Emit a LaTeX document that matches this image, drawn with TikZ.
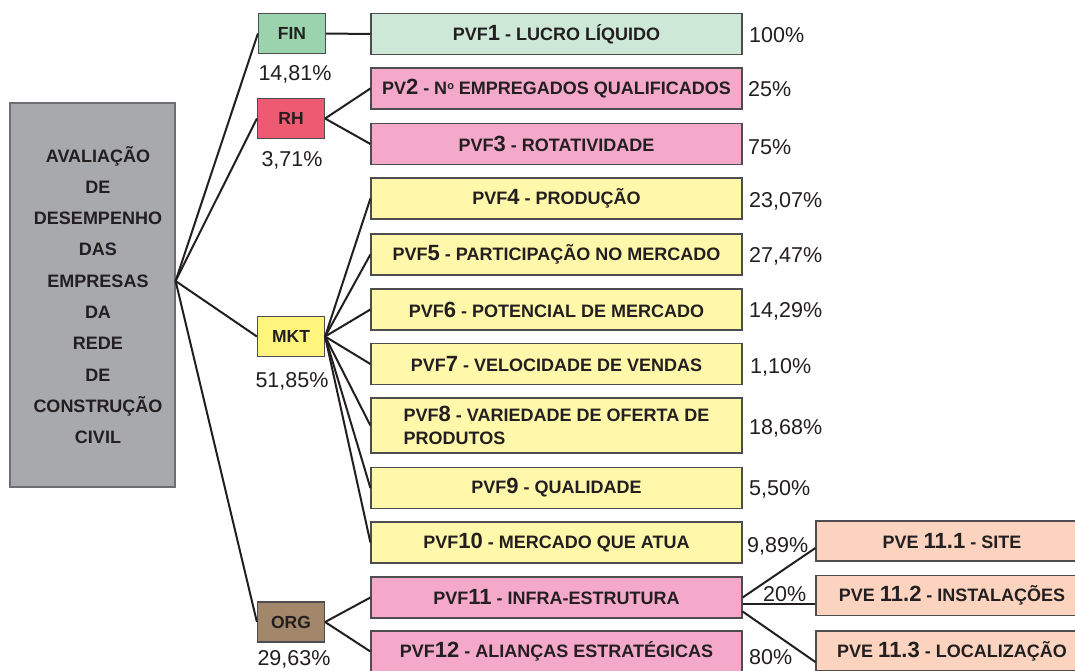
\documentclass[tikz,border=0pt]{standalone}
\usepackage{fontspec}
\setmainfont{Liberation Sans}
\definecolor{ink}{HTML}{231F20}
\definecolor{boxline}{HTML}{4D4D4F}
\definecolor{maingray}{HTML}{A7A9AC}
\definecolor{maingrayline}{HTML}{6D6E71}
\definecolor{fingreen}{HTML}{9BD3AE}
\definecolor{lightgreen}{HTML}{CDE8D7}
\definecolor{rhred}{HTML}{EE5A72}
\definecolor{pink}{HTML}{F4A9CB}
\definecolor{mktyellow}{HTML}{FFF57D}
\definecolor{lightyellow}{HTML}{FFF7AA}
\definecolor{orgbrown}{HTML}{A3876A}
\definecolor{peach}{HTML}{FCD3BF}
\newcommand{\dg}[1]{{\fontsize{22}{22}\selectfont #1}}
\newcommand{\nsup}{N\raisebox{0.55ex}{\fontsize{11}{11}\selectfont o}}
\newcommand{\ml}[1]{\hspace*{11pt}#1}
\tikzset{
  box/.style={draw=boxline, line width=1.2pt, inner sep=0pt, text=ink,
    font=\bfseries\fontsize{18}{23}\selectfont},
  catbox/.style={box, minimum width=67pt, minimum height=40pt,
    font=\bfseries\fontsize{17.5}{20}\selectfont},
  pvfbox/.style={box, minimum width=371pt, minimum height=41pt},
  pvebox/.style={box, fill=peach, minimum width=272pt, minimum height=40pt},
  pct/.style={font=\fontsize{21.5}{24}\selectfont, text=ink, inner sep=0pt},
  pctr/.style={pct, anchor=base west},
  pctc/.style={pct, anchor=base},
  link/.style={line width=2pt, draw=ink}
}
\begin{document}
\begin{tikzpicture}[x=1pt,y=-1pt]
\useasboundingbox (0,0) rectangle (1075,670);
\clip (0,0) rectangle (1075,670);

% main box
\node[box, draw=maingrayline, fill=maingray, minimum width=165pt, minimum height=384pt,
  align=center, font=\bfseries\fontsize{18}{31.3}\selectfont] (main) at (92.5,295)
  {\ml{AVALIAÇÃO}\\\ml{DE}\\\ml{DESEMPENHO}\\\ml{DAS}\\\ml{EMPRESAS}\\\ml{DA}\\\ml{REDE}\\\ml{DE}\\\ml{CONSTRUÇÃO}\\\ml{CIVIL}};
\coordinate (mo) at ([yshift=14pt]main.east);

% categories
\node[catbox, fill=fingreen] (fin) at (292,33.5) {FIN};
\node[catbox, fill=rhred] (rh) at (291,118.5) {RH};
\node[catbox, fill=mktyellow] (mkt) at (291,336.5) {MKT};
\node[catbox, fill=orgbrown] (org) at (291,622) {ORG};

\node[pctc] (pfin) at (295,80) {14,81\%};
\node[pctc] (prh) at (292,166.5) {3,71\%};
\node[pctc] (pmkt) at (292,387) {51,85\%};
\node[pctc] (porg) at (294,665) {29,63\%};

% PVF boxes
\node[pvfbox, fill=lightgreen] (p1) at (556.5,34) {PVF\dg{1} - LUCRO LÍQUIDO};
\node[pvfbox, fill=pink] (p2) at (556.5,88.5) {PV\dg{2} - \nsup{} EMPREGADOS QUALIFICADOS};
\node[pvfbox, fill=pink] (p3) at (556.5,144) {PVF\dg{3} - ROTATIVIDADE};
\node[pvfbox, fill=lightyellow] (p4) at (556.5,198.5) {PVF\dg{4} - PRODUÇÃO};
\node[pvfbox, fill=lightyellow] (p5) at (556.5,254.5) {PVF\dg{5} - PARTICIPAÇÃO NO MERCADO};
\node[pvfbox, fill=lightyellow] (p6) at (556.5,309.5) {PVF\dg{6} - POTENCIAL DE MERCADO};
\node[pvfbox, fill=lightyellow] (p7) at (556.5,364) {PVF\dg{7} - VELOCIDADE DE VENDAS};
\node[pvfbox, fill=lightyellow, minimum height=55pt, align=left] (p8) at (556.5,425.5)
  {PVF\dg{8} - VARIEDADE DE OFERTA DE\\PRODUTOS};
\node[pvfbox, fill=lightyellow] (p9) at (556.5,488) {PVF\dg{9} - QUALIDADE};
\node[pvfbox, fill=lightyellow] (p10) at (556.5,542.5) {PVF\dg{10} - MERCADO QUE ATUA};
\node[pvfbox, fill=pink] (p11) at (556.5,597.5) {PVF\dg{11} - INFRA-ESTRUTURA};
\node[pvfbox, fill=pink] (p12) at (556.5,651.5) {PVF\dg{12} - ALIANÇAS ESTRATÉGICAS};

% PVE boxes
\node[pvebox] (e1) at (952,541) {PVE \dg{11.1} - SITE};
\node[pvebox] (e2) at (952,595.5) {PVE \dg{11.2} - INSTALAÇÕES};
\node[pvebox] (e3) at (952,651) {PVE \dg{11.3} - LOCALIZAÇÃO};

% percentages
\node[pctr] (q1) at (749,42.3) {100\%};
\node[pctr] (q2) at (748,96) {25\%};
\node[pctr] (q3) at (748,154) {75\%};
\node[pctr] (q4) at (749,207) {23,07\%};
\node[pctr] (q5) at (749,262) {27,47\%};
\node[pctr] (q6) at (749,317) {14,29\%};
\node[pctr] (q7) at (750,373) {1,10\%};
\node[pctr] (q8) at (749,434) {18,68\%};
\node[pctr] (q9) at (749,495.5) {5,50\%};
\node[pctr] (q10) at (747,552) {9,89\%};
\node[pctr] (q11) at (763,601) {20\%};
\node[pctr] (q12) at (749,664) {80\%};

% connectors
\draw[link] (mo) -- (fin.west);
\draw[link] (mo) -- (rh.west);
\draw[link] (mo) -- (mkt.west);
\draw[link] (mo) -- (org.west);
\draw[link] (fin.east) -- (p1.west);
\draw[link] (rh.east) -- (p2.west);
\draw[link] (rh.east) -- (p3.west);
\foreach \t in {p4,p5,p6,p7,p8,p9,p10}
  \draw[link] (mkt.east) -- (\t.west);
\draw[link] (org.east) -- (p11.west);
\draw[link] (org.east) -- (p12.west);
\draw[link] (p11.east) -- ([yshift=-7pt]e1.west);
\draw[link] ([yshift=-6.5pt]p11.east) -- ([yshift=-8.5pt]e2.west);
\draw[link] ([yshift=-14pt]p11.east) -- ([yshift=-11pt]e3.west);
\end{tikzpicture}
\end{document}
